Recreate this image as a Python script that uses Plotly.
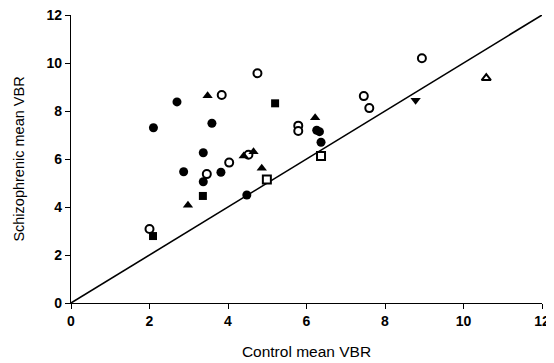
import plotly.graph_objects as go

# Data
fc_x = [2.1, 2.7, 2.87, 3.37, 3.37, 3.59, 3.82, 4.48, 6.26, 6.33, 6.37]
fc_y = [7.3, 8.38, 5.47, 6.26, 5.05, 7.49, 5.45, 4.5, 7.2, 7.14, 6.7]

oc_x = [2.0, 3.46, 3.84, 4.03, 4.52, 4.75, 5.79, 5.79, 7.46, 7.6, 8.94]
oc_y = [3.08, 5.37, 8.67, 5.85, 6.18, 9.57, 7.39, 7.17, 8.62, 8.12, 10.2]

ft_x = [2.98, 3.48, 4.4, 4.65, 4.86, 6.22]
ft_y = [4.07, 8.64, 6.12, 6.3, 5.61, 7.72]

ot_x = [10.58]
ot_y = [9.37]

fs_x = [2.09, 3.36, 5.2]
fs_y = [2.79, 4.46, 8.32]

os_x = [4.99, 6.37]
os_y = [5.15, 6.12]

fd_x = [8.78]
fd_y = [8.45]

line_x = [0, 12]
line_y = [0, 12]

x_ticks = [0, 2, 4, 6, 8, 10, 12]
y_ticks = [0, 2, 4, 6, 8, 10, 12]

FONT = "Liberation Sans, Arial, sans-serif"

fig = go.Figure()
fig.add_trace(go.Scatter(x=line_x, y=line_y, mode="lines",
                         line=dict(color="black", width=1.6), hoverinfo="skip"))

def add(xs, ys, symbol, size, filled):
    fig.add_trace(go.Scatter(
        x=xs, y=ys, mode="markers",
        marker=dict(symbol=symbol, size=size,
                    color="black" if filled else "white",
                    line=dict(color="black", width=0 if filled else 2)),
    ))

add(fc_x, fc_y, "circle", 9, True)
add(oc_x, oc_y, "circle", 8, False)
add(ft_x, ft_y, "triangle-up", 9, True)
add(ot_x, ot_y, "triangle-up", 8, False)
add(fs_x, fs_y, "square", 8, True)
add(os_x, os_y, "square", 8, False)
add(fd_x, fd_y, "triangle-down", 9, True)

axis_common = dict(
    showgrid=False, zeroline=False, showline=True, linecolor="black", linewidth=1.3,
    ticks="outside", ticklen=5, tickwidth=1.3, tickcolor="black",
    tickfont=dict(family=FONT, size=14, color="black", weight="bold"),
    range=[0, 12], automargin=False, ticklabeloverflow="allow",
)

# The page body has an 8px margin, so the figure is sized/offset accordingly.
fig.update_layout(
    width=546, height=354,
    margin=dict(l=63, r=12, t=7, b=59),
    paper_bgcolor="white", plot_bgcolor="white",
    showlegend=False,
    xaxis=dict(**axis_common, tickvals=x_ticks,
               title=dict(text="Control mean VBR", standoff=18,
                          font=dict(family=FONT, size=15.5, color="black"))),
    yaxis=dict(**axis_common, tickvals=y_ticks,
               title=dict(text="Schizophrenic mean VBR", standoff=18,
                          font=dict(family=FONT, size=14.5, color="black"))),
)
fig.update_traces(cliponaxis=False)

fig.write_html("out.html")
